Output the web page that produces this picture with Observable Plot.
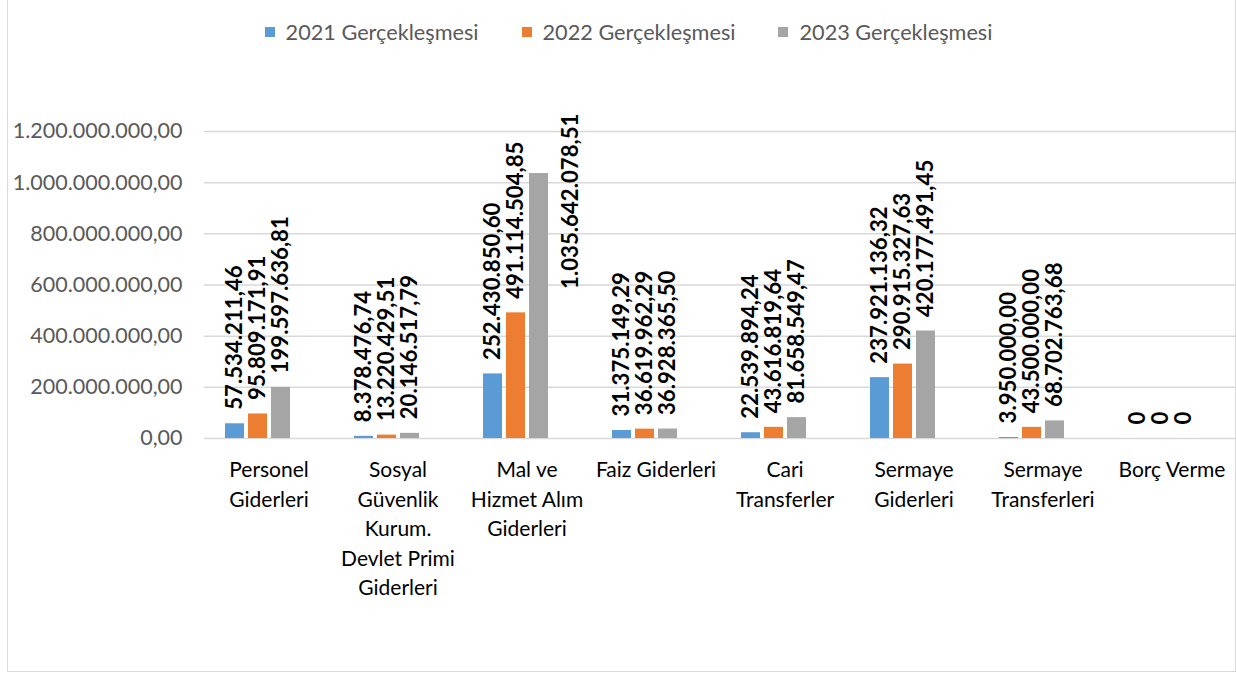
<!DOCTYPE html>
<html>
<head>
<meta charset="utf-8">
<script src="https://cdn.jsdelivr.net/npm/d3@7"></script>
<script src="https://cdn.jsdelivr.net/npm/@observablehq/plot@0.6"></script>
<style>
  body { margin: 0; background: #fff; font-family: Lato, "Open Sans", sans-serif; }
  #wrap { position: relative; width: 1236px; height: 673px; overflow: hidden; background: #fff; }
  #frame { position: absolute; left: 7px; top: -3px; width: 1229px; height: 675px; border: 1.5px solid #d9d9d9; box-sizing: border-box; }
  #legend { position: absolute; top: 18px; left: 0; width: 1236px; height: 28px; display: flex; justify-content: center; align-items: center; gap: 43px; padding-left: 21px; box-sizing: border-box; }
  .item { display: flex; align-items: center; font-size: 21.7px; color: #595959; white-space: nowrap; }
  .sw { width: 10px; height: 10px; margin-right: 11px; }
  #chart { position: absolute; top: 60px; left: 0; }
</style>
</head>
<body>
<div id="wrap">
  <div id="frame"></div>
  <div id="legend"></div>
  <div id="chart"></div>
</div>
<script>
// ---- data ----
const categories = [
  "Personel Giderleri",
  "Sosyal Güvenlik Kurum. Devlet Primi Giderleri",
  "Mal ve Hizmet Alım Giderleri",
  "Faiz Giderleri",
  "Cari Transferler",
  "Sermaye Giderleri",
  "Sermaye Transferleri",
  "Borç Verme"
];
const categoryLabels = [
  "Personel\nGiderleri",
  "Sosyal\nGüvenlik\nKurum.\nDevlet Primi\nGiderleri",
  "Mal ve\nHizmet Alım\nGiderleri",
  "Faiz Giderleri",
  "Cari\nTransferler",
  "Sermaye\nGiderleri",
  "Sermaye\nTransferleri",
  "Borç Verme"
];
const series = ["2021 Gerçekleşmesi", "2022 Gerçekleşmesi", "2023 Gerçekleşmesi"];
const values2021 = [57534211.46, 8378476.74, 252430850.60, 31375149.29, 22539894.24, 237921136.32, 3950000.00, 0];
const values2022 = [95809171.91, 13220429.51, 491114504.85, 36619962.29, 43616819.64, 290915327.63, 43500000.00, 0];
const values2023 = [199597636.81, 20146517.79, 1035642078.51, 36928365.50, 81658549.47, 420177491.45, 68702763.68, 0];
const colors = ["#5b9bd5", "#ed7d31", "#a5a5a5"];
const yTicks = [0, 200000000, 400000000, 600000000, 800000000, 1000000000, 1200000000];

// ---- build table ----
const seriesValues = [values2021, values2022, values2023];
const rows = [];
series.forEach((s, si) => categories.forEach((c, ci) => rows.push({category: c, series: s, value: seriesValues[si][ci]})));

const locale = d3.formatLocale({decimal: ",", thousands: ".", grouping: [3], currency: ["", ""]});
const fmt = locale.format(",.2f");
const labelText = d => d.value === 0 ? "0" : fmt(d.value);
const labelMap = new Map(categories.map((c, i) => [c, categoryLabels[i]]));

// legend
const legend = document.getElementById("legend");
series.forEach((s, i) => {
  const it = document.createElement("div");
  it.className = "item";
  it.innerHTML = `<span class="sw" style="background:${colors[i]}"></span><span>${s}</span>`;
  legend.appendChild(it);
});

// chart geometry
const W = 1236, H = 610, mTop = 71, mBottom = 232, mLeft = 204, mRight = 0;
const yMax = 1200000000;
const plotH = H - mTop - mBottom;
const labelFont = 22.2;
const gap = 14;

// measure label lengths to detect labels that would run off the top
const ctx = document.createElement("canvas").getContext("2d");
ctx.font = `bold ${labelFont}px Lato`;
const fits = d => (d.value / yMax) * plotH + gap + ctx.measureText(labelText(d)).width <= plotH + mTop - 5;

const spacer = "";
const chart = Plot.plot({
  width: W,
  height: H,
  marginTop: mTop,
  marginBottom: mBottom,
  marginLeft: mLeft,
  marginRight: mRight,
  style: {fontFamily: "Lato, sans-serif", background: "transparent", overflow: "visible"},
  fx: {domain: categories, padding: 0, label: null},
  x: {domain: [...series, spacer], paddingInner: 0.19, paddingOuter: 0.84, axis: null},
  y: {domain: [0, yMax], label: null},
  color: {domain: series, range: colors},
  marks: [
    Plot.gridY(yTicks, {stroke: "#d9d9d9", strokeOpacity: 1, strokeWidth: 1.5}),
    Plot.barY(rows, {fx: "category", x: "series", y: "value", fill: "series"}),
    Plot.text(rows.filter(fits), {
      fx: "category", x: "series", y: "value", text: labelText,
      rotate: -90, textAnchor: "start", dy: -gap,
      fontSize: labelFont, fontWeight: "bold", fill: "#000"
    }),
    Plot.text(rows.filter(d => !fits(d)), {
      fx: "category", x: () => spacer, text: labelText,
      frameAnchor: "top", rotate: -90, textAnchor: "end", dy: -18,
      fontSize: labelFont, fontWeight: "bold", fill: "#000"
    }),
    Plot.axisY(yTicks, {
      tickSize: 0, tickPadding: 22, fontSize: 21.5, fill: "#595959",
      tickFormat: fmt, label: null
    }),
    Plot.axisFx({
      anchor: "bottom", tickSize: 0, tickPadding: 18, fontSize: 21, fill: "#000",
      lineHeight: 1.4, tickFormat: c => labelMap.get(c), label: null
    })
  ]
});
document.getElementById("chart").appendChild(chart);
</script>
</body>
</html>
